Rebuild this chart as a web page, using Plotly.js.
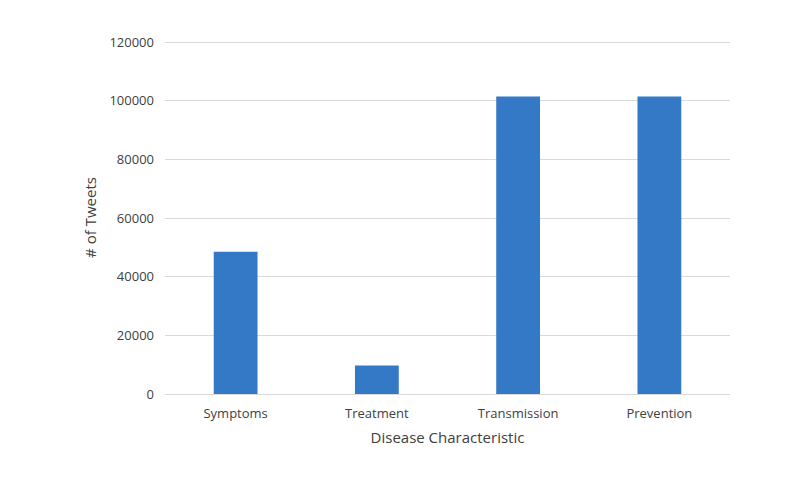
<!DOCTYPE html>
<html>
<head>
<meta charset="utf-8">
<script src="https://cdn.plot.ly/plotly-3.0.1.min.js"></script>
<style>html,body{margin:0;padding:0;background:#fff;}#chart{width:810px;height:485px;}</style>
</head>
<body>
<div id="chart"></div>
<script>
const categories = ["Symptoms", "Treatment", "Transmission", "Prevention"];
const tweets = [48500, 9700, 101400, 101400];
const yTicks = [0, 20000, 40000, 60000, 80000, 100000, 120000];

const trace = {
  type: "bar",
  x: categories,
  y: tweets,
  marker: {color: "#3479c6"},
  hoverinfo: "x+y"
};

const layout = {
  width: 810,
  height: 485,
  margin: {l: 165, r: 80, t: 41, b: 91},
  paper_bgcolor: "#ffffff",
  plot_bgcolor: "#ffffff",
  bargap: 0.69,
  showlegend: false,
  font: {family: "Open Sans, sans-serif", size: 13, color: "#404040"},
  xaxis: {
    type: "category",
    showgrid: false,
    showline: false,
    ticks: "",
    ticklabelstandoff: 10,
    tickfont: {size: 13, color: "#404040"},
    title: {text: "Disease Characteristic", font: {size: 15, color: "#404040"}, standoff: 11}
  },
  yaxis: {
    range: [0, 120350],
    tickvals: yTicks,
    ticktext: yTicks.map(String),
    showgrid: true,
    gridcolor: "#d9d9d9",
    gridwidth: 1,
    zeroline: true,
    zerolinecolor: "#d9d9d9",
    zerolinewidth: 1,
    showline: false,
    ticks: "",
    ticklabelstandoff: 10,
    tickfont: {size: 13, color: "#404040"},
    title: {text: "# of Tweets", font: {size: 15, color: "#404040"}, standoff: 9}
  }
};

Plotly.newPlot("chart", [trace], layout, {displayModeBar: false, staticPlot: true});
</script>
</body>
</html>
